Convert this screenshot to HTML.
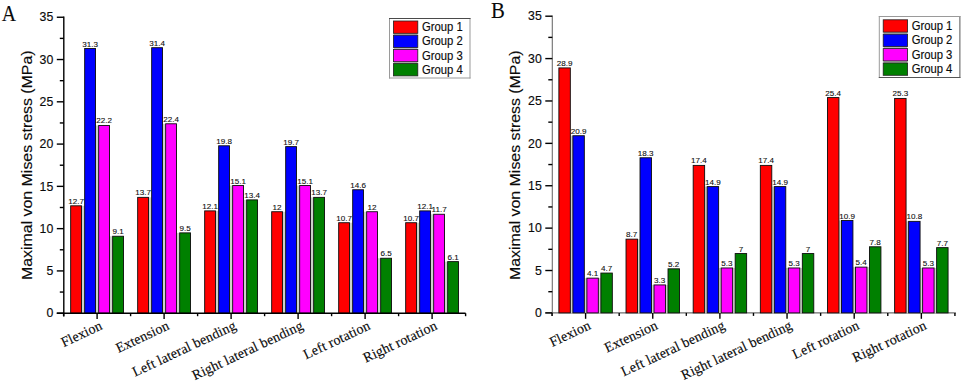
<!DOCTYPE html>
<html><head><meta charset="utf-8"><title>Figure</title>
<style>
html,body{margin:0;padding:0;background:#fff;}
svg{display:block;}
text{font-family:"Liberation Sans",sans-serif;fill:#0a0a0a;stroke:#0a0a0a;stroke-width:0.14px;}
.ax{stroke:#000;stroke-width:1.4;}
.axg{stroke:#6e6e6e;stroke-width:1.1;}
.v{font-size:8.1px;fill:#111;stroke-width:0.1px;}
.yt{font-size:12.3px;}
.ti{font-size:15.9px;}
.lg{font-size:12px;}
.xl{font-family:"Liberation Serif",serif;font-size:14px;letter-spacing:0.12px;}
.lt{font-family:"Liberation Serif",serif;stroke-width:0.1px;}
</style></head><body>
<svg width="962" height="382" viewBox="0 0 962 382">
<rect width="962" height="382" fill="#fff"/>
<rect x="81.52" y="205.81" width="3.15" height="107.39" fill="#ccd2ca"/>
<rect x="95.52" y="125.48" width="3.15" height="187.72" fill="#ccd2ca"/>
<rect x="109.52" y="236.25" width="3.15" height="76.95" fill="#ccd2ca"/>
<rect x="70.67" y="205.81" width="10.85" height="107.39" fill="#ff0000" stroke="#0c0c0c" stroke-width="0.9"/>
<text class="v" x="76.10" y="203.81" text-anchor="middle">12.7</text>
<rect x="84.67" y="48.54" width="10.85" height="264.66" fill="#0000ff" stroke="#0c0c0c" stroke-width="0.9"/>
<text class="v" x="90.10" y="46.54" text-anchor="middle">31.3</text>
<rect x="98.67" y="125.48" width="10.85" height="187.72" fill="#ff00ff" stroke="#0c0c0c" stroke-width="0.9"/>
<text class="v" x="104.10" y="123.48" text-anchor="middle">22.2</text>
<rect x="112.67" y="236.25" width="10.85" height="76.95" fill="#008000" stroke="#0c0c0c" stroke-width="0.9"/>
<text class="v" x="118.10" y="234.25" text-anchor="middle">9.1</text>
<rect x="148.53" y="197.36" width="3.15" height="115.84" fill="#ccd2ca"/>
<rect x="162.53" y="123.79" width="3.15" height="189.41" fill="#ccd2ca"/>
<rect x="176.53" y="232.87" width="3.15" height="80.33" fill="#ccd2ca"/>
<rect x="137.67" y="197.36" width="10.85" height="115.84" fill="#ff0000" stroke="#0c0c0c" stroke-width="0.9"/>
<text class="v" x="143.10" y="195.36" text-anchor="middle">13.7</text>
<rect x="151.67" y="47.69" width="10.85" height="265.51" fill="#0000ff" stroke="#0c0c0c" stroke-width="0.9"/>
<text class="v" x="157.10" y="45.69" text-anchor="middle">31.4</text>
<rect x="165.67" y="123.79" width="10.85" height="189.41" fill="#ff00ff" stroke="#0c0c0c" stroke-width="0.9"/>
<text class="v" x="171.10" y="121.79" text-anchor="middle">22.4</text>
<rect x="179.67" y="232.87" width="10.85" height="80.33" fill="#008000" stroke="#0c0c0c" stroke-width="0.9"/>
<text class="v" x="185.10" y="230.87" text-anchor="middle">9.5</text>
<rect x="215.53" y="210.89" width="3.15" height="102.31" fill="#ccd2ca"/>
<rect x="229.53" y="185.52" width="3.15" height="127.68" fill="#ccd2ca"/>
<rect x="243.53" y="199.89" width="3.15" height="113.31" fill="#ccd2ca"/>
<rect x="204.67" y="210.89" width="10.85" height="102.31" fill="#ff0000" stroke="#0c0c0c" stroke-width="0.9"/>
<text class="v" x="210.10" y="208.89" text-anchor="middle">12.1</text>
<rect x="218.67" y="145.78" width="10.85" height="167.42" fill="#0000ff" stroke="#0c0c0c" stroke-width="0.9"/>
<text class="v" x="224.10" y="143.78" text-anchor="middle">19.8</text>
<rect x="232.67" y="185.52" width="10.85" height="127.68" fill="#ff00ff" stroke="#0c0c0c" stroke-width="0.9"/>
<text class="v" x="238.10" y="183.52" text-anchor="middle">15.1</text>
<rect x="246.67" y="199.89" width="10.85" height="113.31" fill="#008000" stroke="#0c0c0c" stroke-width="0.9"/>
<text class="v" x="252.10" y="197.89" text-anchor="middle">13.4</text>
<rect x="282.53" y="211.73" width="3.15" height="101.47" fill="#ccd2ca"/>
<rect x="296.53" y="185.52" width="3.15" height="127.68" fill="#ccd2ca"/>
<rect x="310.53" y="197.36" width="3.15" height="115.84" fill="#ccd2ca"/>
<rect x="271.68" y="211.73" width="10.85" height="101.47" fill="#ff0000" stroke="#0c0c0c" stroke-width="0.9"/>
<text class="v" x="277.10" y="209.73" text-anchor="middle">12</text>
<rect x="285.68" y="146.62" width="10.85" height="166.58" fill="#0000ff" stroke="#0c0c0c" stroke-width="0.9"/>
<text class="v" x="291.10" y="144.62" text-anchor="middle">19.7</text>
<rect x="299.68" y="185.52" width="10.85" height="127.68" fill="#ff00ff" stroke="#0c0c0c" stroke-width="0.9"/>
<text class="v" x="305.10" y="183.52" text-anchor="middle">15.1</text>
<rect x="313.68" y="197.36" width="10.85" height="115.84" fill="#008000" stroke="#0c0c0c" stroke-width="0.9"/>
<text class="v" x="319.10" y="195.36" text-anchor="middle">13.7</text>
<rect x="349.53" y="222.72" width="3.15" height="90.48" fill="#ccd2ca"/>
<rect x="363.53" y="211.73" width="3.15" height="101.47" fill="#ccd2ca"/>
<rect x="377.53" y="258.24" width="3.15" height="54.96" fill="#ccd2ca"/>
<rect x="338.68" y="222.72" width="10.85" height="90.48" fill="#ff0000" stroke="#0c0c0c" stroke-width="0.9"/>
<text class="v" x="344.10" y="220.72" text-anchor="middle">10.7</text>
<rect x="352.68" y="189.75" width="10.85" height="123.45" fill="#0000ff" stroke="#0c0c0c" stroke-width="0.9"/>
<text class="v" x="358.10" y="187.75" text-anchor="middle">14.6</text>
<rect x="366.68" y="211.73" width="10.85" height="101.47" fill="#ff00ff" stroke="#0c0c0c" stroke-width="0.9"/>
<text class="v" x="372.10" y="209.73" text-anchor="middle">12</text>
<rect x="380.68" y="258.24" width="10.85" height="54.96" fill="#008000" stroke="#0c0c0c" stroke-width="0.9"/>
<text class="v" x="386.10" y="256.24" text-anchor="middle">6.5</text>
<rect x="416.53" y="222.72" width="3.15" height="90.48" fill="#ccd2ca"/>
<rect x="430.53" y="214.27" width="3.15" height="98.93" fill="#ccd2ca"/>
<rect x="444.53" y="261.62" width="3.15" height="51.58" fill="#ccd2ca"/>
<rect x="405.68" y="222.72" width="10.85" height="90.48" fill="#ff0000" stroke="#0c0c0c" stroke-width="0.9"/>
<text class="v" x="411.10" y="220.72" text-anchor="middle">10.7</text>
<rect x="419.68" y="210.89" width="10.85" height="102.31" fill="#0000ff" stroke="#0c0c0c" stroke-width="0.9"/>
<text class="v" x="425.10" y="208.89" text-anchor="middle">12.1</text>
<rect x="433.68" y="214.27" width="10.85" height="98.93" fill="#ff00ff" stroke="#0c0c0c" stroke-width="0.9"/>
<text class="v" x="439.10" y="212.27" text-anchor="middle">11.7</text>
<rect x="447.68" y="261.62" width="10.85" height="51.58" fill="#008000" stroke="#0c0c0c" stroke-width="0.9"/>
<text class="v" x="453.10" y="259.62" text-anchor="middle">6.1</text>
<line x1="63.8" y1="16.55" x2="63.8" y2="316.4" class="ax"/>
<line x1="56.8" y1="313.2" x2="465.6" y2="313.2" class="ax"/>
<line x1="56.8" y1="313.20" x2="63.8" y2="313.20" class="ax"/>
<text class="yt" x="53.3" y="317.40" text-anchor="end">0</text>
<line x1="59.8" y1="292.06" x2="63.8" y2="292.06" class="ax"/>
<line x1="56.8" y1="270.92" x2="63.8" y2="270.92" class="ax"/>
<text class="yt" x="53.3" y="275.12" text-anchor="end">5</text>
<line x1="59.8" y1="249.78" x2="63.8" y2="249.78" class="ax"/>
<line x1="56.8" y1="228.64" x2="63.8" y2="228.64" class="ax"/>
<text class="yt" x="53.3" y="232.84" text-anchor="end">10</text>
<line x1="59.8" y1="207.50" x2="63.8" y2="207.50" class="ax"/>
<line x1="56.8" y1="186.36" x2="63.8" y2="186.36" class="ax"/>
<text class="yt" x="53.3" y="190.56" text-anchor="end">15</text>
<line x1="59.8" y1="165.22" x2="63.8" y2="165.22" class="ax"/>
<line x1="56.8" y1="144.09" x2="63.8" y2="144.09" class="ax"/>
<text class="yt" x="53.3" y="148.29" text-anchor="end">20</text>
<line x1="59.8" y1="122.95" x2="63.8" y2="122.95" class="ax"/>
<line x1="56.8" y1="101.81" x2="63.8" y2="101.81" class="ax"/>
<text class="yt" x="53.3" y="106.01" text-anchor="end">25</text>
<line x1="59.8" y1="80.67" x2="63.8" y2="80.67" class="ax"/>
<line x1="56.8" y1="59.53" x2="63.8" y2="59.53" class="ax"/>
<text class="yt" x="53.3" y="63.73" text-anchor="end">30</text>
<line x1="59.8" y1="38.39" x2="63.8" y2="38.39" class="ax"/>
<line x1="56.8" y1="17.25" x2="63.8" y2="17.25" class="ax"/>
<text class="yt" x="53.3" y="21.45" text-anchor="end">35</text>
<line x1="97.10" y1="313.2" x2="97.10" y2="319.09999999999997" class="ax"/>
<line x1="130.60" y1="313.2" x2="130.60" y2="316.2" class="ax"/>
<line x1="63.60" y1="313.2" x2="63.60" y2="316.2" class="ax"/>
<text class="xl" text-anchor="end" transform="translate(103.10,328.80) rotate(-25.2)">Flexion</text>
<line x1="164.10" y1="313.2" x2="164.10" y2="319.09999999999997" class="ax"/>
<line x1="197.60" y1="313.2" x2="197.60" y2="316.2" class="ax"/>
<text class="xl" text-anchor="end" transform="translate(170.10,328.80) rotate(-25.2)">Extension</text>
<line x1="231.10" y1="313.2" x2="231.10" y2="319.09999999999997" class="ax"/>
<line x1="264.60" y1="313.2" x2="264.60" y2="316.2" class="ax"/>
<text class="xl" text-anchor="end" transform="translate(237.10,328.80) rotate(-25.2)">Left lateral bending</text>
<line x1="298.10" y1="313.2" x2="298.10" y2="319.09999999999997" class="ax"/>
<line x1="331.60" y1="313.2" x2="331.60" y2="316.2" class="ax"/>
<text class="xl" text-anchor="end" transform="translate(304.10,328.80) rotate(-25.2)">Right lateral bending</text>
<line x1="365.10" y1="313.2" x2="365.10" y2="319.09999999999997" class="ax"/>
<line x1="398.60" y1="313.2" x2="398.60" y2="316.2" class="ax"/>
<text class="xl" text-anchor="end" transform="translate(371.10,328.80) rotate(-25.2)">Left rotation</text>
<line x1="432.10" y1="313.2" x2="432.10" y2="319.09999999999997" class="ax"/>
<line x1="465.60" y1="313.2" x2="465.60" y2="316.2" class="ax"/>
<text class="xl" text-anchor="end" transform="translate(438.10,328.80) rotate(-25.2)">Right rotation</text>
<text class="ti" text-anchor="middle" transform="translate(32.0,165.2) rotate(-90) scale(1,0.88)">Maximal von Mises stress (MPa)</text>
<text class="lt" transform="translate(1.75,20.8) scale(0.875,1)" font-size="22.7">A</text>
<rect x="389.5" y="18.5" width="80.5" height="59.5" fill="#fff"/>
<line x1="389.5" y1="18.0" x2="389.5" y2="78.5" stroke="#9a9a9a" stroke-width="1"/>
<line x1="470.0" y1="18.0" x2="470.0" y2="78.5" stroke="#9a9a9a" stroke-width="1"/>
<line x1="389.0" y1="18.5" x2="470.5" y2="18.5" stroke="#4a4a4a" stroke-width="1"/>
<line x1="389.0" y1="78.0" x2="470.5" y2="78.0" stroke="#9a9a9a" stroke-width="1"/>
<rect x="393.7" y="21.8" width="23.8" height="52.60" fill="#b4b8b4"/>
<rect x="393.4" y="21.00" width="24.4" height="12.3" fill="#ff0000" stroke="#222" stroke-width="0.8"/>
<text class="lg" transform="translate(422.00,31.20) scale(0.94,1)">Group 1</text>
<rect x="393.4" y="35.20" width="24.4" height="12.3" fill="#0000ff" stroke="#222" stroke-width="0.8"/>
<text class="lg" transform="translate(422.00,45.40) scale(0.94,1)">Group 2</text>
<rect x="393.4" y="49.40" width="24.4" height="12.3" fill="#ff00ff" stroke="#222" stroke-width="0.8"/>
<text class="lg" transform="translate(422.00,59.60) scale(0.94,1)">Group 3</text>
<rect x="393.4" y="63.60" width="24.4" height="12.3" fill="#008000" stroke="#222" stroke-width="0.8"/>
<text class="lg" transform="translate(422.00,73.80) scale(0.94,1)">Group 4</text>
<line x1="552.3" y1="15.5" x2="552.3" y2="316.09999999999997" class="axg"/>
<line x1="545.3" y1="312.9" x2="955.9" y2="312.9" class="axg"/>
<rect x="570.33" y="135.73" width="2.55" height="177.17" fill="#ccd2ca"/>
<rect x="584.33" y="278.14" width="2.55" height="34.76" fill="#ccd2ca"/>
<rect x="598.33" y="278.14" width="2.55" height="34.76" fill="#ccd2ca"/>
<rect x="558.88" y="67.91" width="11.45" height="244.99" fill="#ff0000" stroke="#0c0c0c" stroke-width="0.9"/>
<text class="v" x="564.60" y="65.91" text-anchor="middle">28.9</text>
<rect x="572.88" y="135.73" width="11.45" height="177.17" fill="#0000ff" stroke="#0c0c0c" stroke-width="0.9"/>
<text class="v" x="578.60" y="133.73" text-anchor="middle">20.9</text>
<rect x="586.88" y="278.14" width="11.45" height="34.76" fill="#ff00ff" stroke="#0c0c0c" stroke-width="0.9"/>
<text class="v" x="592.60" y="276.14" text-anchor="middle">4.1</text>
<rect x="600.88" y="273.06" width="11.45" height="39.84" fill="#008000" stroke="#0c0c0c" stroke-width="0.9"/>
<text class="v" x="606.60" y="271.06" text-anchor="middle">4.7</text>
<rect x="637.48" y="239.15" width="2.55" height="73.75" fill="#ccd2ca"/>
<rect x="651.48" y="284.93" width="2.55" height="27.97" fill="#ccd2ca"/>
<rect x="665.48" y="284.93" width="2.55" height="27.97" fill="#ccd2ca"/>
<rect x="626.02" y="239.15" width="11.45" height="73.75" fill="#ff0000" stroke="#0c0c0c" stroke-width="0.9"/>
<text class="v" x="631.75" y="237.15" text-anchor="middle">8.7</text>
<rect x="640.02" y="157.77" width="11.45" height="155.13" fill="#0000ff" stroke="#0c0c0c" stroke-width="0.9"/>
<text class="v" x="645.75" y="155.77" text-anchor="middle">18.3</text>
<rect x="654.02" y="284.93" width="11.45" height="27.97" fill="#ff00ff" stroke="#0c0c0c" stroke-width="0.9"/>
<text class="v" x="659.75" y="282.93" text-anchor="middle">3.3</text>
<rect x="668.02" y="268.82" width="11.45" height="44.08" fill="#008000" stroke="#0c0c0c" stroke-width="0.9"/>
<text class="v" x="673.75" y="266.82" text-anchor="middle">5.2</text>
<rect x="704.63" y="186.59" width="2.55" height="126.31" fill="#ccd2ca"/>
<rect x="718.63" y="267.97" width="2.55" height="44.93" fill="#ccd2ca"/>
<rect x="732.63" y="267.97" width="2.55" height="44.93" fill="#ccd2ca"/>
<rect x="693.18" y="165.40" width="11.45" height="147.50" fill="#ff0000" stroke="#0c0c0c" stroke-width="0.9"/>
<text class="v" x="698.90" y="163.40" text-anchor="middle">17.4</text>
<rect x="707.18" y="186.59" width="11.45" height="126.31" fill="#0000ff" stroke="#0c0c0c" stroke-width="0.9"/>
<text class="v" x="712.90" y="184.59" text-anchor="middle">14.9</text>
<rect x="721.18" y="267.97" width="11.45" height="44.93" fill="#ff00ff" stroke="#0c0c0c" stroke-width="0.9"/>
<text class="v" x="726.90" y="265.97" text-anchor="middle">5.3</text>
<rect x="735.18" y="253.56" width="11.45" height="59.34" fill="#008000" stroke="#0c0c0c" stroke-width="0.9"/>
<text class="v" x="740.90" y="251.56" text-anchor="middle">7</text>
<rect x="771.78" y="186.59" width="2.55" height="126.31" fill="#ccd2ca"/>
<rect x="785.78" y="267.97" width="2.55" height="44.93" fill="#ccd2ca"/>
<rect x="799.78" y="267.97" width="2.55" height="44.93" fill="#ccd2ca"/>
<rect x="760.33" y="165.40" width="11.45" height="147.50" fill="#ff0000" stroke="#0c0c0c" stroke-width="0.9"/>
<text class="v" x="766.05" y="163.40" text-anchor="middle">17.4</text>
<rect x="774.33" y="186.59" width="11.45" height="126.31" fill="#0000ff" stroke="#0c0c0c" stroke-width="0.9"/>
<text class="v" x="780.05" y="184.59" text-anchor="middle">14.9</text>
<rect x="788.33" y="267.97" width="11.45" height="44.93" fill="#ff00ff" stroke="#0c0c0c" stroke-width="0.9"/>
<text class="v" x="794.05" y="265.97" text-anchor="middle">5.3</text>
<rect x="802.33" y="253.56" width="11.45" height="59.34" fill="#008000" stroke="#0c0c0c" stroke-width="0.9"/>
<text class="v" x="808.05" y="251.56" text-anchor="middle">7</text>
<rect x="838.93" y="220.50" width="2.55" height="92.40" fill="#ccd2ca"/>
<rect x="852.93" y="267.12" width="2.55" height="45.78" fill="#ccd2ca"/>
<rect x="866.93" y="267.12" width="2.55" height="45.78" fill="#ccd2ca"/>
<rect x="827.48" y="97.58" width="11.45" height="215.32" fill="#ff0000" stroke="#0c0c0c" stroke-width="0.9"/>
<text class="v" x="833.20" y="95.58" text-anchor="middle">25.4</text>
<rect x="841.48" y="220.50" width="11.45" height="92.40" fill="#0000ff" stroke="#0c0c0c" stroke-width="0.9"/>
<text class="v" x="847.20" y="218.50" text-anchor="middle">10.9</text>
<rect x="855.48" y="267.12" width="11.45" height="45.78" fill="#ff00ff" stroke="#0c0c0c" stroke-width="0.9"/>
<text class="v" x="861.20" y="265.12" text-anchor="middle">5.4</text>
<rect x="869.48" y="246.78" width="11.45" height="66.12" fill="#008000" stroke="#0c0c0c" stroke-width="0.9"/>
<text class="v" x="875.20" y="244.78" text-anchor="middle">7.8</text>
<rect x="906.08" y="221.35" width="2.55" height="91.55" fill="#ccd2ca"/>
<rect x="920.08" y="267.97" width="2.55" height="44.93" fill="#ccd2ca"/>
<rect x="934.08" y="267.97" width="2.55" height="44.93" fill="#ccd2ca"/>
<rect x="894.62" y="98.43" width="11.45" height="214.47" fill="#ff0000" stroke="#0c0c0c" stroke-width="0.9"/>
<text class="v" x="900.35" y="96.43" text-anchor="middle">25.3</text>
<rect x="908.62" y="221.35" width="11.45" height="91.55" fill="#0000ff" stroke="#0c0c0c" stroke-width="0.9"/>
<text class="v" x="914.35" y="219.35" text-anchor="middle">10.8</text>
<rect x="922.62" y="267.97" width="11.45" height="44.93" fill="#ff00ff" stroke="#0c0c0c" stroke-width="0.9"/>
<text class="v" x="928.35" y="265.97" text-anchor="middle">5.3</text>
<rect x="936.62" y="247.63" width="11.45" height="65.27" fill="#008000" stroke="#0c0c0c" stroke-width="0.9"/>
<text class="v" x="942.35" y="245.63" text-anchor="middle">7.7</text>
<line x1="545.3" y1="312.90" x2="552.3" y2="312.90" class="ax"/>
<text class="yt" x="541.8" y="317.10" text-anchor="end">0</text>
<line x1="548.3" y1="291.71" x2="552.3" y2="291.71" class="ax"/>
<line x1="545.3" y1="270.51" x2="552.3" y2="270.51" class="ax"/>
<text class="yt" x="541.8" y="274.71" text-anchor="end">5</text>
<line x1="548.3" y1="249.32" x2="552.3" y2="249.32" class="ax"/>
<line x1="545.3" y1="228.13" x2="552.3" y2="228.13" class="ax"/>
<text class="yt" x="541.8" y="232.33" text-anchor="end">10</text>
<line x1="548.3" y1="206.94" x2="552.3" y2="206.94" class="ax"/>
<line x1="545.3" y1="185.74" x2="552.3" y2="185.74" class="ax"/>
<text class="yt" x="541.8" y="189.94" text-anchor="end">15</text>
<line x1="548.3" y1="164.55" x2="552.3" y2="164.55" class="ax"/>
<line x1="545.3" y1="143.36" x2="552.3" y2="143.36" class="ax"/>
<text class="yt" x="541.8" y="147.56" text-anchor="end">20</text>
<line x1="548.3" y1="122.16" x2="552.3" y2="122.16" class="ax"/>
<line x1="545.3" y1="100.97" x2="552.3" y2="100.97" class="ax"/>
<text class="yt" x="541.8" y="105.17" text-anchor="end">25</text>
<line x1="548.3" y1="79.78" x2="552.3" y2="79.78" class="ax"/>
<line x1="545.3" y1="58.59" x2="552.3" y2="58.59" class="ax"/>
<text class="yt" x="541.8" y="62.79" text-anchor="end">30</text>
<line x1="548.3" y1="37.39" x2="552.3" y2="37.39" class="ax"/>
<line x1="545.3" y1="16.20" x2="552.3" y2="16.20" class="ax"/>
<text class="yt" x="541.8" y="20.40" text-anchor="end">35</text>
<line x1="585.60" y1="312.9" x2="585.60" y2="318.79999999999995" class="ax"/>
<line x1="619.18" y1="312.9" x2="619.18" y2="315.9" class="ax"/>
<line x1="552.02" y1="312.9" x2="552.02" y2="315.9" class="ax"/>
<text class="xl" text-anchor="end" transform="translate(591.60,328.50) rotate(-25.2)">Flexion</text>
<line x1="652.75" y1="312.9" x2="652.75" y2="318.79999999999995" class="ax"/>
<line x1="686.33" y1="312.9" x2="686.33" y2="315.9" class="ax"/>
<text class="xl" text-anchor="end" transform="translate(658.75,328.50) rotate(-25.2)">Extension</text>
<line x1="719.90" y1="312.9" x2="719.90" y2="318.79999999999995" class="ax"/>
<line x1="753.48" y1="312.9" x2="753.48" y2="315.9" class="ax"/>
<text class="xl" text-anchor="end" transform="translate(725.90,328.50) rotate(-25.2)">Left lateral bending</text>
<line x1="787.05" y1="312.9" x2="787.05" y2="318.79999999999995" class="ax"/>
<line x1="820.63" y1="312.9" x2="820.63" y2="315.9" class="ax"/>
<text class="xl" text-anchor="end" transform="translate(793.05,328.50) rotate(-25.2)">Right lateral bending</text>
<line x1="854.20" y1="312.9" x2="854.20" y2="318.79999999999995" class="ax"/>
<line x1="887.78" y1="312.9" x2="887.78" y2="315.9" class="ax"/>
<text class="xl" text-anchor="end" transform="translate(860.20,328.50) rotate(-25.2)">Left rotation</text>
<line x1="921.35" y1="312.9" x2="921.35" y2="318.79999999999995" class="ax"/>
<line x1="954.93" y1="312.9" x2="954.93" y2="315.9" class="ax"/>
<text class="xl" text-anchor="end" transform="translate(927.35,328.50) rotate(-25.2)">Right rotation</text>
<text class="ti" text-anchor="middle" transform="translate(519.5,165.2) rotate(-90) scale(1,0.88)">Maximal von Mises stress (MPa)</text>
<text class="lt" transform="translate(490.9,18.2) scale(0.92,1)" font-size="22.6">B</text>
<rect x="879.3" y="16.5" width="80.6" height="61.0" fill="#fff"/>
<line x1="879.3" y1="16.0" x2="879.3" y2="78.0" stroke="#9a9a9a" stroke-width="1"/>
<line x1="959.9" y1="16.0" x2="959.9" y2="78.0" stroke="#555" stroke-width="1"/>
<line x1="878.8" y1="16.5" x2="960.4" y2="16.5" stroke="#9a9a9a" stroke-width="1"/>
<line x1="878.8" y1="77.5" x2="960.4" y2="77.5" stroke="#555" stroke-width="1"/>
<rect x="883.5" y="20.6" width="23.8" height="53.20" fill="#b4b8b4"/>
<rect x="883.1999999999999" y="19.80" width="24.4" height="12.3" fill="#ff0000" stroke="#222" stroke-width="0.8"/>
<text class="lg" transform="translate(911.70,30.00) scale(0.94,1)">Group 1</text>
<rect x="883.1999999999999" y="34.20" width="24.4" height="12.3" fill="#0000ff" stroke="#222" stroke-width="0.8"/>
<text class="lg" transform="translate(911.70,44.40) scale(0.94,1)">Group 2</text>
<rect x="883.1999999999999" y="48.60" width="24.4" height="12.3" fill="#ff00ff" stroke="#222" stroke-width="0.8"/>
<text class="lg" transform="translate(911.70,58.80) scale(0.94,1)">Group 3</text>
<rect x="883.1999999999999" y="63.00" width="24.4" height="12.3" fill="#008000" stroke="#222" stroke-width="0.8"/>
<text class="lg" transform="translate(911.70,73.20) scale(0.94,1)">Group 4</text>
</svg>
</body></html>
